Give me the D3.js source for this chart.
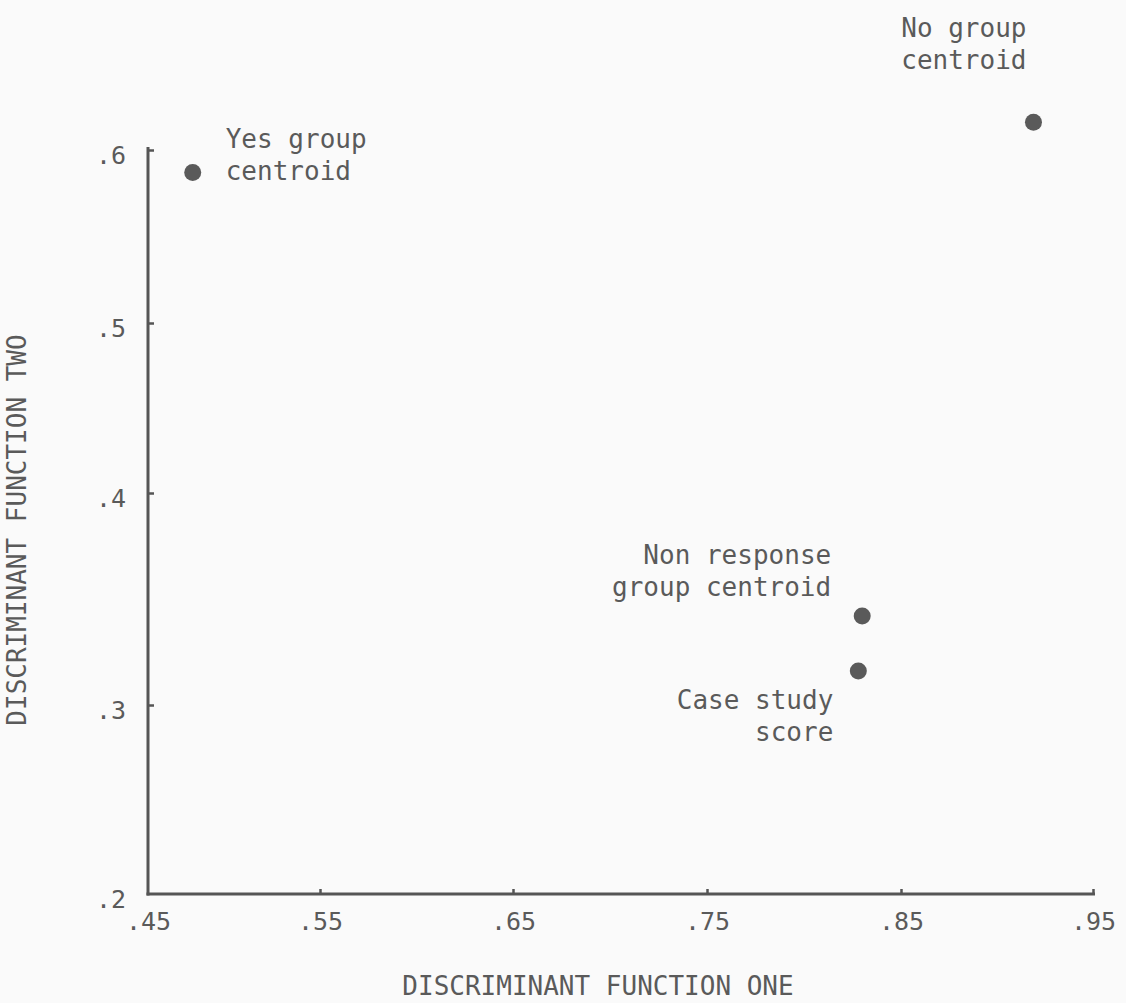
<!DOCTYPE html>
<html>
<head>
<meta charset="utf-8">
<script src="https://cdn.jsdelivr.net/npm/d3@7"></script>
<style>
  html, body { margin: 0; padding: 0; background: #fafafa; }
  svg { display: block; }
  text { font-family: "DejaVu Sans Mono", "Liberation Mono", monospace; fill: #5a5a5a; }
</style>
</head>
<body>
<svg id="chart" width="1126" height="1003"></svg>
<script>
// ---- data ----
const xTicks = [0.45, 0.55, 0.65, 0.75, 0.85, 0.95];
const xTickLabels = [".45", ".55", ".65", ".75", ".85", ".95"];
const yTicks = [0.2, 0.3, 0.4, 0.5, 0.6];
const yTickLabels = [".2", ".3", ".4", ".5", ".6"];
const pointNames = ["Yes group centroid", "No group centroid", "Non response group centroid", "Case study score"];
const pointX = [0.476, 0.919, 0.830, 0.828];
const pointY = [0.587, 0.616, 0.342, 0.316];
const pointLabelLines = [["Yes group", "centroid"], ["No group", "centroid"], ["Non response", "group centroid"], ["Case study", "score"]];
const xTitle = "DISCRIMINANT FUNCTION ONE";
const yTitle = "DISCRIMINANT FUNCTION TWO";

// ---- layout ----
const svg = d3.select("#chart");
const ink = "#555";
// hand-drawn original: tick spacing is slightly irregular, so map each tick to its drawn position
const x = d3.scaleLinear().domain(xTicks).range([148, 320, 513, 707, 901, 1093]);
const y = d3.scaleLinear().domain(yTicks).range([894, 705, 493, 323, 150]);

const fs = 25;

// axes
const xAxis = d3.axisBottom(x).tickValues(xTicks).tickSize(-5).tickSizeOuter(0)
  .tickFormat((d, i) => xTickLabels[i]);
const gx = svg.append("g").attr("transform", `translate(0,${y(0.2)})`).call(xAxis);
gx.select(".domain").attr("d", `M${x(0.45) - 1.5},0H${x(0.95) + 2}`);
const gy = svg.append("g").attr("transform", `translate(${x(0.45)},0)`)
  .call(d3.axisLeft(y).tickValues(yTicks).tickSize(-6).tickSizeOuter(0).tickFormat((d, i) => yTickLabels[i]));
gy.select(".domain").attr("d", `M0,${y(0.2) + 1.5}V${y(0.6) - 3}`);

[gx, gy].forEach(g => {
  g.select(".domain").attr("stroke", ink).attr("stroke-width", 3).attr("fill", "none");
  g.selectAll(".tick line").attr("stroke", ink).attr("stroke-width", 2.5);
  g.selectAll(".tick text").attr("font-size", fs).style("font-family", "'DejaVu Sans Mono', monospace").attr("fill", "#5a5a5a");
});
gx.selectAll(".tick text").attr("y", 18).attr("dy", "0.71em");
gy.selectAll(".tick text").attr("x", -22).attr("dy", "0.55em").attr("text-anchor", "end");
gy.selectAll(".tick").filter(d => d === 0.2).select("line").remove();
gx.selectAll(".tick").filter(d => d === 0.45).select("line").remove();

// points
svg.append("g").selectAll("circle")
  .data(pointNames.map((n, i) => ({ n, x: pointX[i], y: pointY[i] })))
  .join("circle")
  .attr("cx", d => x(d.x)).attr("cy", d => y(d.y)).attr("r", 8.5)
  .attr("fill", "#5a5a5a");

// labels (offsets relative to each point)
const labelOffsets = [
  { dx: 33, dy: -24, anchor: "start" },
  { dx: -7, dy: -85, anchor: "end" },
  { dx: -31, dy: -52, anchor: "end" },
  { dx: -25, dy: 38, anchor: "end" }
];
const lineH = 32;
pointLabelLines.forEach((lines, i) => {
  const o = labelOffsets[i];
  const t = svg.append("text")
    .attr("x", x(pointX[i]) + o.dx).attr("y", y(pointY[i]) + o.dy)
    .attr("text-anchor", o.anchor).attr("font-size", fs + 1);
  lines.forEach((ln, j) => {
    t.append("tspan").attr("x", x(pointX[i]) + o.dx).attr("dy", j === 0 ? 0 : lineH).text(ln);
  });
});

// axis titles
svg.append("text").attr("x", 598).attr("y", 995).attr("text-anchor", "middle")
  .attr("font-size", fs + 1).text(xTitle);
svg.append("text").attr("transform", "translate(26,530) rotate(-90)").attr("text-anchor", "middle")
  .attr("font-size", fs + 1).text(yTitle);
</script>
</body>
</html>
